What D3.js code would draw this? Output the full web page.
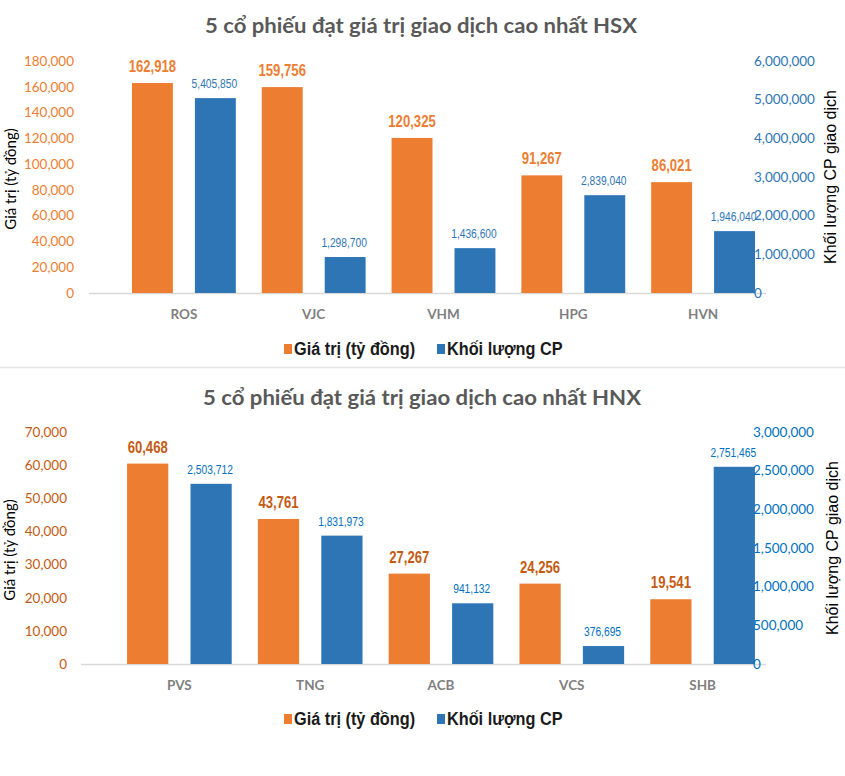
<!DOCTYPE html>
<html>
<head>
<meta charset="utf-8">
<script src="https://cdn.jsdelivr.net/npm/d3@7"></script>
<style>
  html, body { margin: 0; padding: 0; background: #ffffff; }
  svg { display: block; }
</style>
</head>
<body>
<svg id="chart" width="845" height="776"></svg>
<script>
// ---------- DATA ----------
const seriesNames = ["Giá trị (tỷ đồng)", "Khối lượng CP"];

const hsxCategories = ["ROS", "VJC", "VHM", "HPG", "HVN"];
const hsxValue = [162918, 159756, 120325, 91267, 86021];
// bar heights as drawn in the picture
const hsxVolume = [5040000, 930000, 1160000, 2530000, 1600000];
// printed data labels
const hsxVolumeLabel = [5405850, 1298700, 1436600, 2839040, 1946040];
const hsxLeftTicks = [0, 20000, 40000, 60000, 80000, 100000, 120000, 140000, 160000, 180000];
const hsxRightTicks = [0, 1000000, 2000000, 3000000, 4000000, 5000000, 6000000];

const hnxCategories = ["PVS", "TNG", "ACB", "VCS", "SHB"];
const hnxValue = [60468, 43761, 27267, 24256, 19541];
const hnxVolume = [2330000, 1660000, 785000, 232000, 2550000];
const hnxVolumeLabel = [2503712, 1831973, 941132, 376695, 2751465];
const hnxLeftTicks = [0, 10000, 20000, 30000, 40000, 50000, 60000, 70000];
const hnxRightTicks = [0, 500000, 1000000, 1500000, 2000000, 2500000, 3000000];

// ---------- DRAW ----------
const svg = d3.select("#chart");
const fmt = d3.format(",");
const ORANGE = "#ED7D31", BLUE = "#2E75B6";
const ARIAL = "'Liberation Sans', Arial, sans-serif";
const SANS = "Lato, 'Open Sans', sans-serif";

// condensed text emulation (Arial Narrow look)
function narrowText(sel, x, y, anchor, k) {
  return sel.append("text")
    .attr("transform", `translate(${x},${y}) scale(${k || 0.82},1)`)
    .attr("text-anchor", anchor || "middle")
    .attr("font-family", ARIAL);
}

function drawChart(o) {
  const g = svg.append("g");

  // title
  g.append("text")
    .attr("x", o.titleX).attr("y", o.titleY)
    .attr("text-anchor", "middle")
    .attr("font-family", SANS)
    .attr("font-weight", "bold")
    .attr("font-size", 21)
    .attr("fill", "#595959")
    .attr("textLength", o.titleLen)
    .attr("lengthAdjust", "spacingAndGlyphs")
    .text(o.title);

  const x0 = d3.scaleBand().domain(o.categories).range(o.xRange).padding(0);
  const bw = x0.bandwidth();
  const x1 = d3.scaleBand().domain(["value", "volume"]).range([0.1 * bw, 0.9 * bw]).paddingInner(0.35);
  const yL = d3.scaleLinear().domain([0, d3.max(o.leftTicks)]).range([o.y0, o.yTop]);
  const yR = d3.scaleLinear().domain([0, d3.max(o.rightTicks)]).range([o.y0, o.yTop]);

  // baseline
  g.append("line")
    .attr("x1", o.baseX1).attr("x2", o.baseX2)
    .attr("y1", o.y0 + 0.5).attr("y2", o.y0 + 0.5)
    .attr("stroke", "#D9D9D9").attr("stroke-width", 1.5);

  const rows = o.categories.map((c, i) => ({ c, v: o.value[i], vol: o.volume[i], volLab: o.volumeLabel[i] }));

  // bars
  g.selectAll(".bv").data(rows).enter().append("rect")
    .attr("x", d => x0(d.c) + x1("value"))
    .attr("width", x1.bandwidth())
    .attr("y", d => yL(d.v))
    .attr("height", d => o.y0 - yL(d.v))
    .attr("fill", ORANGE);

  g.selectAll(".bb").data(rows).enter().append("rect")
    .attr("x", d => x0(d.c) + x1("volume"))
    .attr("width", x1.bandwidth())
    .attr("y", d => yR(d.vol))
    .attr("height", d => o.y0 - yR(d.vol))
    .attr("fill", BLUE);

  // data labels
  rows.forEach(d => {
    narrowText(g, x0(d.c) + x1("value") + x1.bandwidth() / 2, yL(d.v) - 11)
      .attr("font-weight", "bold")
      .attr("font-size", 16)
      .attr("fill", o.orangeText)
      .text(fmt(d.v));
    narrowText(g, x0(d.c) + x1("volume") + x1.bandwidth() / 2 - 1, yR(d.vol) - 10)
      .attr("font-size", 12.5)
      .attr("fill", o.blueText)
      .text(fmt(d.volLab));
  });

  // left axis
  const axL = g.append("g")
    .attr("transform", `translate(${o.leftAxisX},0)`)
    .call(d3.axisLeft(yL).tickValues(o.leftTicks).tickFormat(fmt).tickSize(0).tickPadding(0));
  axL.select(".domain").remove();
  axL.selectAll("text")
    .attr("font-family", SANS)
    .attr("font-size", 13.5)
    .attr("fill", o.orangeText);

  // right axis
  const axR = g.append("g")
    .attr("transform", `translate(${o.rightAxisX},0)`)
    .call(d3.axisRight(yR).tickValues(o.rightTicks).tickFormat(fmt).tickSize(0).tickPadding(0));
  axR.select(".domain").remove();
  axR.selectAll("text")
    .attr("font-family", SANS)
    .attr("font-size", 13.5)
    .attr("fill", o.blueText);

  // category labels
  g.selectAll(".cat").data(o.categories).enter().append("text")
    .attr("x", d => x0(d) + bw / 2)
    .attr("y", o.catY)
    .attr("text-anchor", "middle")
    .attr("font-family", SANS)
    .attr("font-weight", "bold")
    .attr("font-size", 13.5)
    .attr("fill", "#7F7F7F")
    .text(d => d);

  // axis titles
  const midY = (o.y0 + o.yTop) / 2;
  g.append("text")
    .attr("transform", `translate(${o.leftTitleX},${midY + 2}) rotate(-90)`)
    .attr("text-anchor", "middle")
    .attr("font-family", SANS)
    .attr("font-size", 15)
    .attr("fill", "#000")
    .text("Giá trị (tỷ đồng)");
  g.append("text")
    .attr("transform", `translate(${o.rightTitleX},${midY}) rotate(-90)`)
    .attr("text-anchor", "middle")
    .attr("font-family", ARIAL)
    .attr("font-size", 16)
    .attr("fill", "#000")
    .text("Khối lượng CP giao dịch");

  // legend
  const leg = g.append("g").attr("transform", `translate(0,${o.legendY})`);
  const legItems = [
    { name: seriesNames[0], color: ORANGE, x: 284 },
    { name: seriesNames[1], color: BLUE, x: 437 }
  ];
  legItems.forEach(it => {
    leg.append("rect").attr("x", it.x).attr("y", -11).attr("width", 8).attr("height", 10).attr("fill", it.color);
    narrowText(leg, it.x + 10, 0, "start", 0.88)
      .attr("font-weight", "bold")
      .attr("font-size", 18.5)
      .attr("fill", "#1a1a1a")
      .text(it.name);
  });
}

drawChart({
  title: "5 cổ phiếu đạt giá trị giao dịch cao nhất HSX",
  titleX: 421, titleY: 33, titleLen: 432,
  categories: hsxCategories, value: hsxValue, volume: hsxVolume, volumeLabel: hsxVolumeLabel,
  leftTicks: hsxLeftTicks, rightTicks: hsxRightTicks,
  xRange: [119, 768], y0: 293, yTop: 61,
  baseX1: 89, baseX2: 766,
  leftAxisX: 74, rightAxisX: 754,
  orangeText: ORANGE, blueText: BLUE,
  catY: 319, legendY: 355,
  leftTitleX: 16, rightTitleX: 836
});

// separator
svg.append("line").attr("x1", 0).attr("x2", 845).attr("y1", 367.5).attr("y2", 367.5)
  .attr("stroke", "#E3E3E3").attr("stroke-width", 1.5);

drawChart({
  title: "5 cổ phiếu đạt giá trị giao dịch cao nhất HNX",
  titleX: 422, titleY: 405, titleLen: 438,
  categories: hnxCategories, value: hnxValue, volume: hnxVolume, volumeLabel: hnxVolumeLabel,
  leftTicks: hnxLeftTicks, rightTicks: hnxRightTicks,
  xRange: [114, 768], y0: 664, yTop: 432,
  baseX1: 81, baseX2: 766,
  leftAxisX: 67, rightAxisX: 753,
  orangeText: "#C55A11", blueText: "#0070C0",
  catY: 690, legendY: 725,
  leftTitleX: 15, rightTitleX: 838
});
</script>
</body>
</html>
